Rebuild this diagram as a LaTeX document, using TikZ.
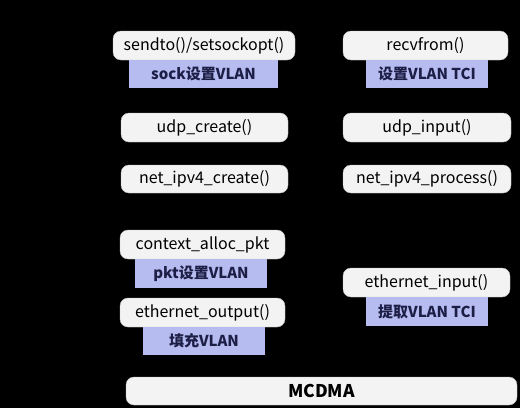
\documentclass[tikz,border=0pt]{standalone}
\usepackage{fontspec}
\setmainfont{Noto Sans CJK SC}
\definecolor{boxfill}{RGB}{243,243,243}
\definecolor{vfill}{RGB}{182,187,240}
\definecolor{vtext}{RGB}{28,30,70}
\begin{document}
\begin{tikzpicture}[x=1pt,y=-1pt,
  fn/.style={fill=boxfill,draw=gray!50,line width=0.4pt,rounded corners=8pt,inner sep=0pt,
    minimum height=29pt,font=\fontsize{16}{16}\selectfont,text=black},
  vl/.style={fill=vfill,inner sep=0pt,minimum height=28pt,
    font=\bfseries\fontsize{15}{15}\selectfont,text=vtext}]
\fill[black] (0,0) rectangle (520,408);
\useasboundingbox (0,0) rectangle (520,408);
\node[fn,minimum width=182pt] (s1) at (204,45.5) {sendto()/setsockopt()};
\node[vl,minimum width=149pt] (s1v) at (203.5,74) {sock设置VLAN};
\node[fn,minimum width=165pt] (r1) at (425.5,45.5) {recvfrom()};
\node[vl,minimum width=122pt] (r1v) at (427,74) {设置VLAN TCI};
\node[fn,minimum width=167pt] (s2) at (204.5,127.5) {udp\_create()};
\node[fn,minimum width=168pt] (r2) at (427,127.5) {udp\_input()};
\node[fn,minimum width=167pt,minimum height=28pt] (s3) at (204.5,179) {net\_ipv4\_create()};
\node[fn,minimum width=168pt,minimum height=28pt] (r3) at (427,179) {net\_ipv4\_process()};
\node[fn,minimum width=165pt] (s4) at (202.5,244.5) {context\_alloc\_pkt};
\node[vl,minimum width=132pt,minimum height=29pt] (s4v) at (201,273.5) {pkt设置VLAN};
\node[fn,minimum width=165pt] (s5) at (202.5,312.5) {ethernet\_output()};
\node[vl,minimum width=122pt] (s5v) at (204,341) {填充VLAN};
\node[fn,minimum width=167pt] (r4) at (426.5,282.5) {ethernet\_input()};
\node[vl,minimum width=122pt,minimum height=29pt] (r4v) at (427,311.5) {提取VLAN TCI};
\node[fn,minimum width=391pt,minimum height=28pt,font=\bfseries\fontsize{17.5}{17.5}\selectfont] (m) at (321.5,391) {MCDMA};
\end{tikzpicture}
\end{document}
